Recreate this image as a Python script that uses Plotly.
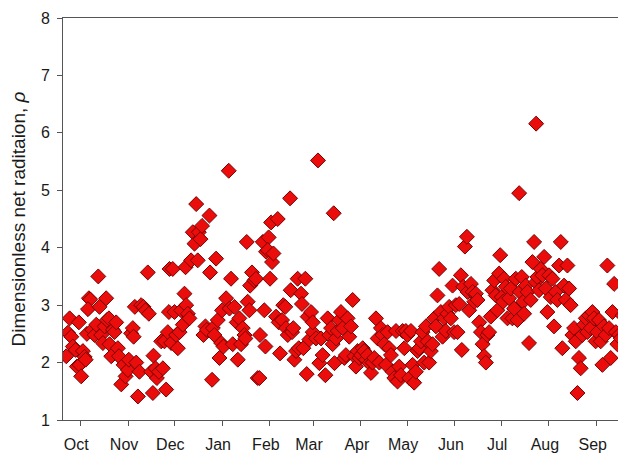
import plotly.graph_objects as go

# Day of water year (days since 1 Oct) and dimensionless net radiation values
days = [
    -9.1, -8.0, -6.9, -5.8, -4.8, -3.0, -2.2, -0.9, -0.4, 0.6, 1.7, 2.8, 3.5, 4.3, 5.6, 6.5, 5.0,
    7.8, 9.3, 10.4, 11.7, 12.5, 13.6, 14.7, 15.8, 16.8, 17.3, 18.6, 19.0, 20.1, 21.2, 22.2, 23.3,
    24.4, 25.1, 26.6, 28.1, 29.4, 30.9,
    31.5, 33.0, 34.1, 34.6, 35.4, 36.3, 37.4, 38.4, 39.5, 41.0, 42.3, 43.8, 44.5, 46.0, 47.1, 47.5,
    48.8, 49.7, 51.0, 52.5, 53.6, 54.6, 55.7, 56.8, 57.5, 59.0, 57.9, 60.0,
    61.1, 62.2, 63.3, 64.4, 65.4, 66.5, 67.6, 68.3, 68.7, 69.8, 70.8, 71.9, 73.0, 74.1, 75.2, 76.2,
    76.9, 78.0, 79.0, 79.9, 81.2, 82.1, 83.8, 84.2, 85.5, 86.0, 87.0, 88.1, 89.2, 90.3, 91.4,
    92.0, 92.9, 94.6, 96.3, 96.8, 97.8, 98.9, 100.0, 101.5, 102.2, 103.2, 104.3, 105.4, 106.5,
    107.1, 108.0, 108.6, 109.7, 110.2, 111.4, 112.9, 114.0, 115.1, 116.2, 116.6, 118.4, 119.4,
    120.1, 120.5, 122.2,
    121.6, 123.1, 123.8, 124.4, 125.3, 127.0, 128.1, 128.7, 129.6, 130.9, 131.7, 133.0, 133.5,
    134.6, 136.1, 136.5, 137.4, 138.2, 138.9, 140.0, 141.0, 141.7, 143.2, 143.8, 144.7, 146.0,
    146.9, 147.5, 148.6, 149.7, 150.8,
    150.8, 152.9, 154.2, 155.1, 156.2, 157.2, 159.0, 160.5, 161.6, 162.7, 163.7, 164.4, 164.9,
    165.9, 167.0, 168.0, 169.1, 170.2, 171.3, 172.3, 173.4, 174.5, 175.6, 176.7, 177.8, 178.8,
    179.9, 181.0,
    182.1, 183.2, 184.2, 185.3, 186.4, 187.5, 188.6, 189.6, 190.7, 191.8, 192.9, 194.0, 195.0,
    196.1, 197.2, 198.3, 199.4, 200.4, 201.5, 202.6, 203.7, 204.8, 205.8, 206.9, 208.0, 209.1,
    210.2, 211.2,
    212.3, 213.4, 214.5, 215.6, 216.6, 217.7, 218.8, 219.9, 221.0, 222.0, 223.1, 224.2, 225.3,
    226.3, 227.4, 228.5, 229.6, 230.7, 231.7, 232.8, 233.9, 235.0, 236.1, 237.1, 238.2, 239.3,
    240.4, 241.5, 242.5,
    243.6, 244.7, 245.8, 246.9, 247.5, 248.4, 249.5, 250.8, 251.2, 252.3, 253.4, 254.5, 255.6,
    256.6, 257.7, 258.8, 259.9, 261.0, 262.0, 263.1, 264.1, 265.2, 266.3, 267.4, 268.5, 269.5,
    270.6, 271.7, 272.4,
    273.4, 274.3, 274.9, 276.0, 277.1, 278.2, 279.3, 280.3, 281.4, 282.5, 283.6, 284.7, 285.1,
    286.4, 287.3, 287.9, 289.0, 290.1, 291.1, 292.2, 293.3, 294.4, 295.5, 295.7, 296.5, 297.6,
    298.7, 299.8, 300.9, 302.0, 303.0,
    304.1, 305.2, 306.3, 307.3, 308.4, 309.5, 310.6, 311.7, 312.7, 313.8, 314.9, 316.0, 317.1,
    318.1, 319.2, 320.3, 321.4, 322.5, 323.5, 324.6, 325.7, 326.8, 327.9, 328.9, 330.0, 331.1,
    332.2, 333.3, 334.3,
    335.4, 336.5, 337.6, 338.7, 339.7, 340.8, 341.9, 343.0, 344.1, 345.2, 346.3, 347.4, 348.4,
    349.5, 350.6, 351.7,
]

rho = [
    2.11, 2.52, 2.77, 2.45, 2.28, 2.22, 1.93, 2.70, 1.96, 1.76, 2.20, 2.10, 2.05, 2.50, 3.12, 3.10, 2.93,
    2.57, 2.48, 2.66, 3.50, 2.97, 2.48, 2.34, 2.63, 3.12, 2.74, 2.77, 2.32, 2.11, 2.57, 2.53, 2.70,
    2.25, 2.11, 1.62, 1.96, 1.76, 1.87,
    2.05, 2.51, 2.60, 2.45, 2.97, 2.00, 1.41, 1.84, 3.00, 2.97, 2.91, 3.57, 2.85, 1.84, 1.47, 2.12,
    1.90, 1.73, 1.84, 2.37, 1.90, 2.37, 1.53, 2.53, 2.88, 2.34, 3.63, 3.63,
    2.88, 2.48, 2.25, 2.53, 2.91, 2.66, 3.20, 3.66, 3.00, 2.85, 2.77, 3.78, 4.27, 4.07, 4.76, 3.78,
    4.27, 4.15, 4.38, 2.48, 2.63, 2.57, 4.56, 3.57, 1.70, 2.60, 2.48, 3.81, 2.74, 2.08, 2.34,
    2.91, 2.28, 3.12, 5.34, 2.94, 3.46, 2.32, 2.97, 2.70, 2.05, 2.77, 2.32, 2.60, 2.48,
    2.42, 4.10, 3.06, 2.91, 3.34, 3.57, 3.43, 3.46, 1.73, 1.73, 2.48, 4.10, 2.91,
    2.28, 3.93, 4.18,
    3.96, 3.46, 4.44, 3.75, 3.90, 2.80, 4.50, 2.70, 2.16, 2.74, 3.00, 2.97, 2.60,
    2.48, 4.86, 3.26, 2.53, 2.60, 2.05, 2.20, 3.46, 2.25, 3.20, 3.02, 2.25, 3.46,
    1.80, 2.80, 2.40, 2.88, 2.53,
    2.70, 2.42, 5.52, 1.99, 2.42, 2.13, 1.78, 2.77, 2.48, 2.60, 2.32, 4.60, 1.99,
    2.42, 2.55, 2.74, 2.88, 2.60, 2.08, 2.13, 2.77, 2.45, 2.63, 3.09, 2.11, 1.93,
    2.20, 2.08,
    2.13, 2.25, 2.20, 2.05, 2.13, 1.99, 1.82, 2.00, 2.08, 2.77, 2.42, 2.00, 2.60,
    2.48, 2.32, 1.96, 2.53, 2.25, 2.13, 1.84, 1.73, 2.55, 1.67, 1.93, 1.78, 2.55,
    2.25, 2.55,
    2.48, 1.73, 2.55, 1.96, 1.65, 1.84, 2.20, 2.25, 2.37, 2.53, 2.00, 2.63, 2.37,
    2.00, 2.20, 2.32, 2.77, 2.63, 3.17, 3.63, 2.88, 2.45, 2.77, 2.55, 2.85, 2.97,
    2.77, 3.34, 2.53,
    3.00, 2.53, 3.02, 3.52, 2.22, 3.32, 4.02, 4.19, 3.23, 2.91, 3.37, 3.23, 3.06,
    3.20, 3.09, 2.70, 2.53, 2.32, 2.11, 2.00, 2.48, 2.53, 2.80, 3.26, 3.43, 3.17,
    2.91, 3.55, 3.87,
    3.14, 3.06, 3.46, 3.32, 2.77, 3.12, 3.29, 2.77, 2.94, 3.46, 2.74, 4.95, 3.23,
    3.49, 3.06, 2.85, 3.34, 3.23, 2.34, 3.09, 3.75, 4.10, 3.40, 6.16, 3.49, 3.26,
    3.63, 3.52, 3.84, 3.29, 2.88,
    3.52, 3.14, 3.46, 2.63, 3.23, 3.09, 3.69, 4.10, 2.25, 3.34, 3.09, 3.69, 3.29,
    3.00, 2.48, 2.60, 2.37, 1.47, 2.08, 1.90, 2.48, 2.66, 2.77, 2.53, 2.82, 2.60,
    2.88, 2.77, 2.37,
    2.53, 2.74, 2.37, 1.96, 2.63, 2.48, 3.69, 2.60, 2.08, 2.88, 3.37, 2.53, 2.32,
    2.48, 2.42, 2.82,
]

month_starts = [0, 31, 61, 92, 123, 151, 182, 212, 243, 273, 304, 335]
month_labels = ["Oct", "Nov", "Dec", "Jan", "Feb", "Mar", "Apr", "May", "Jun", "Jul", "Aug", "Sep"]
y_ticks = [1, 2, 3, 4, 5, 6, 7, 8]

fig = go.Figure()
fig.add_trace(go.Scatter(
    x=days, y=rho, mode="markers",
    marker=dict(symbol="diamond", size=11.5, color="rgb(235,12,12)",
                line=dict(color="rgb(120,0,0)", width=1)),
    showlegend=False,
))

tick_font = dict(family="Liberation Sans, Arial, sans-serif", size=16, color="#1a1a1a")

fig.update_layout(
    width=618, height=446,
    margin=dict(l=55, r=1, t=10, b=24),
    paper_bgcolor="white", plot_bgcolor="white",
    font=tick_font,
)
fig.update_xaxes(
    range=[-11.2, 352.7], tickmode="array", tickvals=month_starts, ticktext=month_labels,
    ticks="outside", ticklen=5, tickcolor="#555", showgrid=False, zeroline=False,
    showline=True, linecolor="#555", linewidth=1, mirror=True, tickfont=tick_font,
    ticklabelstandoff=5, ticklabelshift=-4,
)
fig.update_yaxes(
    range=[1, 8], tickmode="array", tickvals=y_ticks,
    ticks="outside", ticklen=5, tickcolor="#555", showgrid=False, zeroline=False,
    showline=True, linecolor="#555", linewidth=1, mirror=True, tickfont=tick_font,
    ticklabelstandoff=4,
    title=dict(text="Dimensionless net raditaion, <i>ρ</i>",
               font=dict(family="Liberation Sans, Arial, sans-serif", size=19, color="#1a1a1a"),
               standoff=10),
)

fig.write_html("out.html")
